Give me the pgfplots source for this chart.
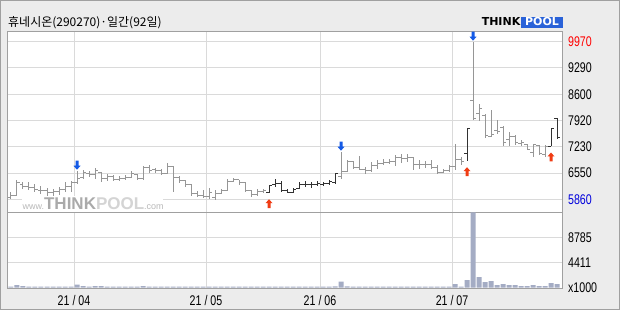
\documentclass[border=0pt]{standalone}
\usepackage{fontspec}
\setmainfont{Liberation Sans}
\newfontfamily\kr{Noto Sans CJK KR}
\newfontfamily\dvs{DejaVu Sans}
\usepackage{pgfplots}
\usepackage{pgfplotstable}
\pgfplotsset{compat=1.18}

\definecolor{bgc}{RGB}{236,236,236}
\definecolor{framec}{RGB}{160,160,160}
\definecolor{gridc}{RGB}{218,218,218}
\definecolor{barlight}{RGB}{150,150,150}
\definecolor{bardark}{RGB}{50,50,50}
\definecolor{volc}{RGB}{164,172,196}
\definecolor{arrblue}{RGB}{20,90,230}
\definecolor{arrred}{RGB}{240,60,20}
\definecolor{tpblue}{RGB}{42,98,216}
\definecolor{wmc}{RGB}{185,185,185}
\definecolor{wmt}{RGB}{170,170,170}
\definecolor{wmp}{RGB}{212,212,212}
\definecolor{lowc}{RGB}{0,0,220}

\pgfdeclareplotmark{otick}{\pgfpathmoveto{\pgfqpoint{-3pt}{0pt}}\pgfpathlineto{\pgfqpoint{0pt}{0pt}}\pgfusepathqstroke}
\pgfdeclareplotmark{ctick}{\pgfpathmoveto{\pgfqpoint{0pt}{0pt}}\pgfpathlineto{\pgfqpoint{3pt}{0pt}}\pgfusepathqstroke}
\pgfdeclareplotmark{uparr}{%
 \pgfpathmoveto{\pgfqpoint{0pt}{-6pt}}%
 \pgfpathlineto{\pgfqpoint{3.5pt}{-10pt}}%
 \pgfpathlineto{\pgfqpoint{1.5pt}{-10pt}}%
 \pgfpathlineto{\pgfqpoint{1.5pt}{-15pt}}%
 \pgfpathlineto{\pgfqpoint{-1.5pt}{-15pt}}%
 \pgfpathlineto{\pgfqpoint{-1.5pt}{-10pt}}%
 \pgfpathlineto{\pgfqpoint{-3.5pt}{-10pt}}%
 \pgfpathclose\pgfusepathqfill}
\pgfdeclareplotmark{dnarr}{%
 \pgfpathmoveto{\pgfqpoint{0pt}{1pt}}%
 \pgfpathlineto{\pgfqpoint{3.5pt}{5pt}}%
 \pgfpathlineto{\pgfqpoint{1.5pt}{5pt}}%
 \pgfpathlineto{\pgfqpoint{1.5pt}{10pt}}%
 \pgfpathlineto{\pgfqpoint{-1.5pt}{10pt}}%
 \pgfpathlineto{\pgfqpoint{-1.5pt}{5pt}}%
 \pgfpathlineto{\pgfqpoint{-3.5pt}{5pt}}%
 \pgfpathclose\pgfusepathqfill}

\pgfplotstableread{
i O H L C
0 5900 6041 5867 5950
1 5960 6362 5954 6300
2 6250 6301 6128 6200
3 6200 6301 6102 6180
4 6180 6258 6041 6120
5 6100 6214 5997 6080
6 6080 6154 5954 6050
7 6040 6128 5954 6060
8 6060 6171 5980 6120
9 6120 6301 6041 6200
10 6200 6345 6041 6300
11 6300 6605 6258 6400
12 6420 6622 6388 6550
13 6540 6605 6431 6500
14 6500 6674 6388 6600
15 6560 6562 6301 6400
16 6400 6518 6345 6450
17 6450 6501 6327 6380
18 6380 6460 6350 6400
19 6400 6486 6354 6420
20 6430 6591 6424 6520
21 6500 6512 6371 6390
22 6390 6732 6371 6700
23 6700 6750 6547 6620
24 6630 6679 6547 6600
25 6600 6662 6486 6520
26 6530 6811 6512 6720
27 6720 6723 6046 6420
28 6420 6459 6283 6350
29 6350 6354 6178 6250
30 6240 6248 5958 6020
31 6020 6072 5914 5960
32 5960 6090 5896 5940
33 5940 6160 5870 6050
34 5900 6090 5852 6020
35 6020 6134 6002 6080
36 6100 6398 6072 6320
37 6330 6424 6310 6380
38 6370 6371 6222 6300
39 6290 6310 6046 6100
40 6100 6107 5931 5990
41 5990 6134 5958 6060
42 6060 6134 6019 6080
55 6450 7102 6398 6580
56 6580 6882 6574 6850
57 6850 6864 6662 6700
58 6680 6987 6618 6650
59 6640 6706 6512 6600
60 6600 6838 6574 6750
61 6740 6882 6662 6800
62 6790 6899 6750 6820
63 6820 6899 6776 6840
64 6850 7014 6732 6960
65 6960 7040 6811 6920
66 6920 7040 6838 6950
67 6950 6952 6635 6760
68 6760 6882 6662 6780
69 6780 6864 6679 6760
70 6770 6882 6662 6700
71 6700 6750 6530 6560
72 6570 6662 6547 6600
73 6600 6750 6574 6720
74 6720 7300 6620 6900
75 6900 6975 6765 6850
77 8445 9970 7938 7964
78 8095 8340 7902 8226
79 8051 8078 7465 7526
80 7500 8183 7482 7552
81 7657 7938 7570 7640
82 7745 7762 7237 7334
83 7412 7605 7237 7500
84 7500 7526 7264 7351
85 7325 7395 7237 7342
86 7290 7307 7150 7167
87 7088 7307 6975 7290
88 7264 7281 7027 7045
89 7027 7264 6975 7237
}\pricelight

\pgfplotstableread{
i O H L C
43 6030 6239 6019 6220
44 6240 6380 6178 6270
45 6280 6327 6072 6080
46 6080 6134 6019 6040
47 6040 6160 6019 6120
48 6140 6310 6134 6250
49 6250 6327 6178 6240
50 6240 6310 6160 6250
51 6240 6327 6195 6260
52 6250 6310 6195 6260
53 6260 6354 6239 6320
54 6300 6547 6266 6530
76 7045 7701 6853 7701
90 7237 7727 7237 7718
91 7955 7990 7438 7465
}\pricedark

\pgfplotstableread{
i v
11 6605
55 7102
77 9970
}\sellsig

\pgfplotstableread{
i v
43 6019
76 6853
90 7237
}\buysig

\pgfplotstableread{
i V
0 160
1 400
2 250
3 150
4 150
5 150
6 150
7 150
8 150
9 150
10 150
11 520
12 250
13 150
14 250
15 250
16 150
17 150
18 150
19 150
20 150
21 150
22 230
23 150
24 150
25 150
26 150
27 150
28 150
29 150
30 150
31 150
32 150
33 150
34 150
35 150
36 150
37 150
38 150
39 150
40 150
41 150
42 150
43 150
44 150
45 150
46 150
47 150
48 150
49 150
50 150
51 150
52 150
53 150
54 200
55 1050
56 200
57 150
58 150
59 150
60 150
61 150
62 150
63 150
64 150
65 150
66 150
67 150
68 150
69 150
70 150
71 150
72 150
73 150
74 600
75 150
76 1280
77 13159
78 1800
79 930
80 1100
81 400
82 580
83 400
84 400
85 230
86 230
87 400
88 230
89 230
90 760
91 580
}\volume

\pgfplotsset{
  chartbase/.style={
    scale only axis,
    width=554.8pt,
    xmin=-0.583, xmax=91.88,
    scaled y ticks=false,
    scaled x ticks=false,
    axis background/.style={fill=white},
    axis line style={draw=framec, line width=1pt},
    major tick length=0pt,
    grid=major,
    major grid style={draw=gridc, line width=1pt},
    xtick={10.5,32.5,51.5,73.5},
    ticklabel style={font=\fontsize{14}{14}\selectfont, xscale=0.76, inner sep=0pt},
    yticklabel pos=right,
    yticklabel style={anchor=west, xshift=7.5pt},
  }
}

\begin{document}
\begin{tikzpicture}[x=1pt,y=1pt]
\fill[bgc] (0,0) rectangle (620,310);
\draw[framec, line width=1pt] (0.5,0.5) rectangle (619.5,309.5);

% title
\node[anchor=base west, inner sep=0pt, font=\kr\fontsize{12}{12}\selectfont] at (8,283) {휴네시온(290270)·일간(92일)};

% logo
\fill[tpblue] (521,282) rectangle (563,293);
\node[anchor=base east, inner sep=0pt, font=\dvs\bfseries\fontsize{11}{11}\selectfont] at (520.5,284) {THINK};
\node[anchor=base, inner sep=0pt, text=white, font=\dvs\bfseries\fontsize{11}{11}\selectfont] at (542,284) {POOL};

% price panel
\begin{axis}[chartbase,
  at={(7.5pt,97.7pt)}, anchor=south west,
  height=180.6pt,
  ymin=5521, ymax=10231,
  clip=false,
  xticklabels={,,,},
  ytick={5860,6545,7230,7915,8600,9285,9970},
  yticklabels={\textcolor{lowc}{5860},6550,7230,7920,8600,9290,\textcolor{red}{9970}},
]
\fill[white] (axis cs:1.83,5521) rectangle (axis cs:25.3,5959);
\node[anchor=base west, inner sep=0pt] at (axis cs:1.9,5607)
 {{\color{wmc}\fontsize{9}{9}\selectfont www.}{\color{wmt}\bfseries\fontsize{17}{17}\selectfont THINK}{\color{wmp}\bfseries\fontsize{17}{17}\selectfont POOL}{\color{wmc}\fontsize{9}{9}\selectfont .com}};

\addplot[only marks, mark=ctick, color=barlight, line width=1pt,
  error bars/.cd, y dir=both, y explicit, error mark=none,
  error bar style={draw=barlight, line width=1pt}]
  table[x=i, y=C, y error plus expr=\thisrow{H}-\thisrow{C}, y error minus expr=\thisrow{C}-\thisrow{L}] {\pricelight};
\addplot[only marks, mark=otick, color=barlight, line width=1pt]
  table[x=i, y=O] {\pricelight};

\addplot[only marks, mark=ctick, color=bardark, line width=1pt,
  error bars/.cd, y dir=both, y explicit, error mark=none,
  error bar style={draw=bardark, line width=1pt}]
  table[x=i, y=C, y error plus expr=\thisrow{H}-\thisrow{C}, y error minus expr=\thisrow{C}-\thisrow{L}] {\pricedark};
\addplot[only marks, mark=otick, color=bardark, line width=1pt]
  table[x=i, y=O] {\pricedark};

\addplot[only marks, mark=dnarr, color=arrblue, fill=arrblue] table[x=i, y=v] {\sellsig};
\addplot[only marks, mark=uparr, color=arrred, fill=arrred] table[x=i, y=v] {\buysig};
\end{axis}

% volume panel
\begin{axis}[chartbase,
  at={(7.5pt,21.7pt)}, anchor=south west,
  height=76pt,
  ymin=-140, ymax=13180,
  xticklabels={21 / 04, 21 / 05, 21 / 06, 21 / 07},
  xticklabel style={anchor=north, yshift=-7pt},
  ytick={4411,8785},
  yticklabels={4411,8785},
  extra y ticks={37},
  extra y tick labels={x1000},
  extra y tick style={grid=none},
]
\addplot[ybar, bar width=5pt, fill=volc, draw=none] table[x=i, y=V] {\volume};
\end{axis}

\pgfresetboundingbox
\useasboundingbox (0,0) rectangle (620,310);
\end{tikzpicture}
\end{document}
